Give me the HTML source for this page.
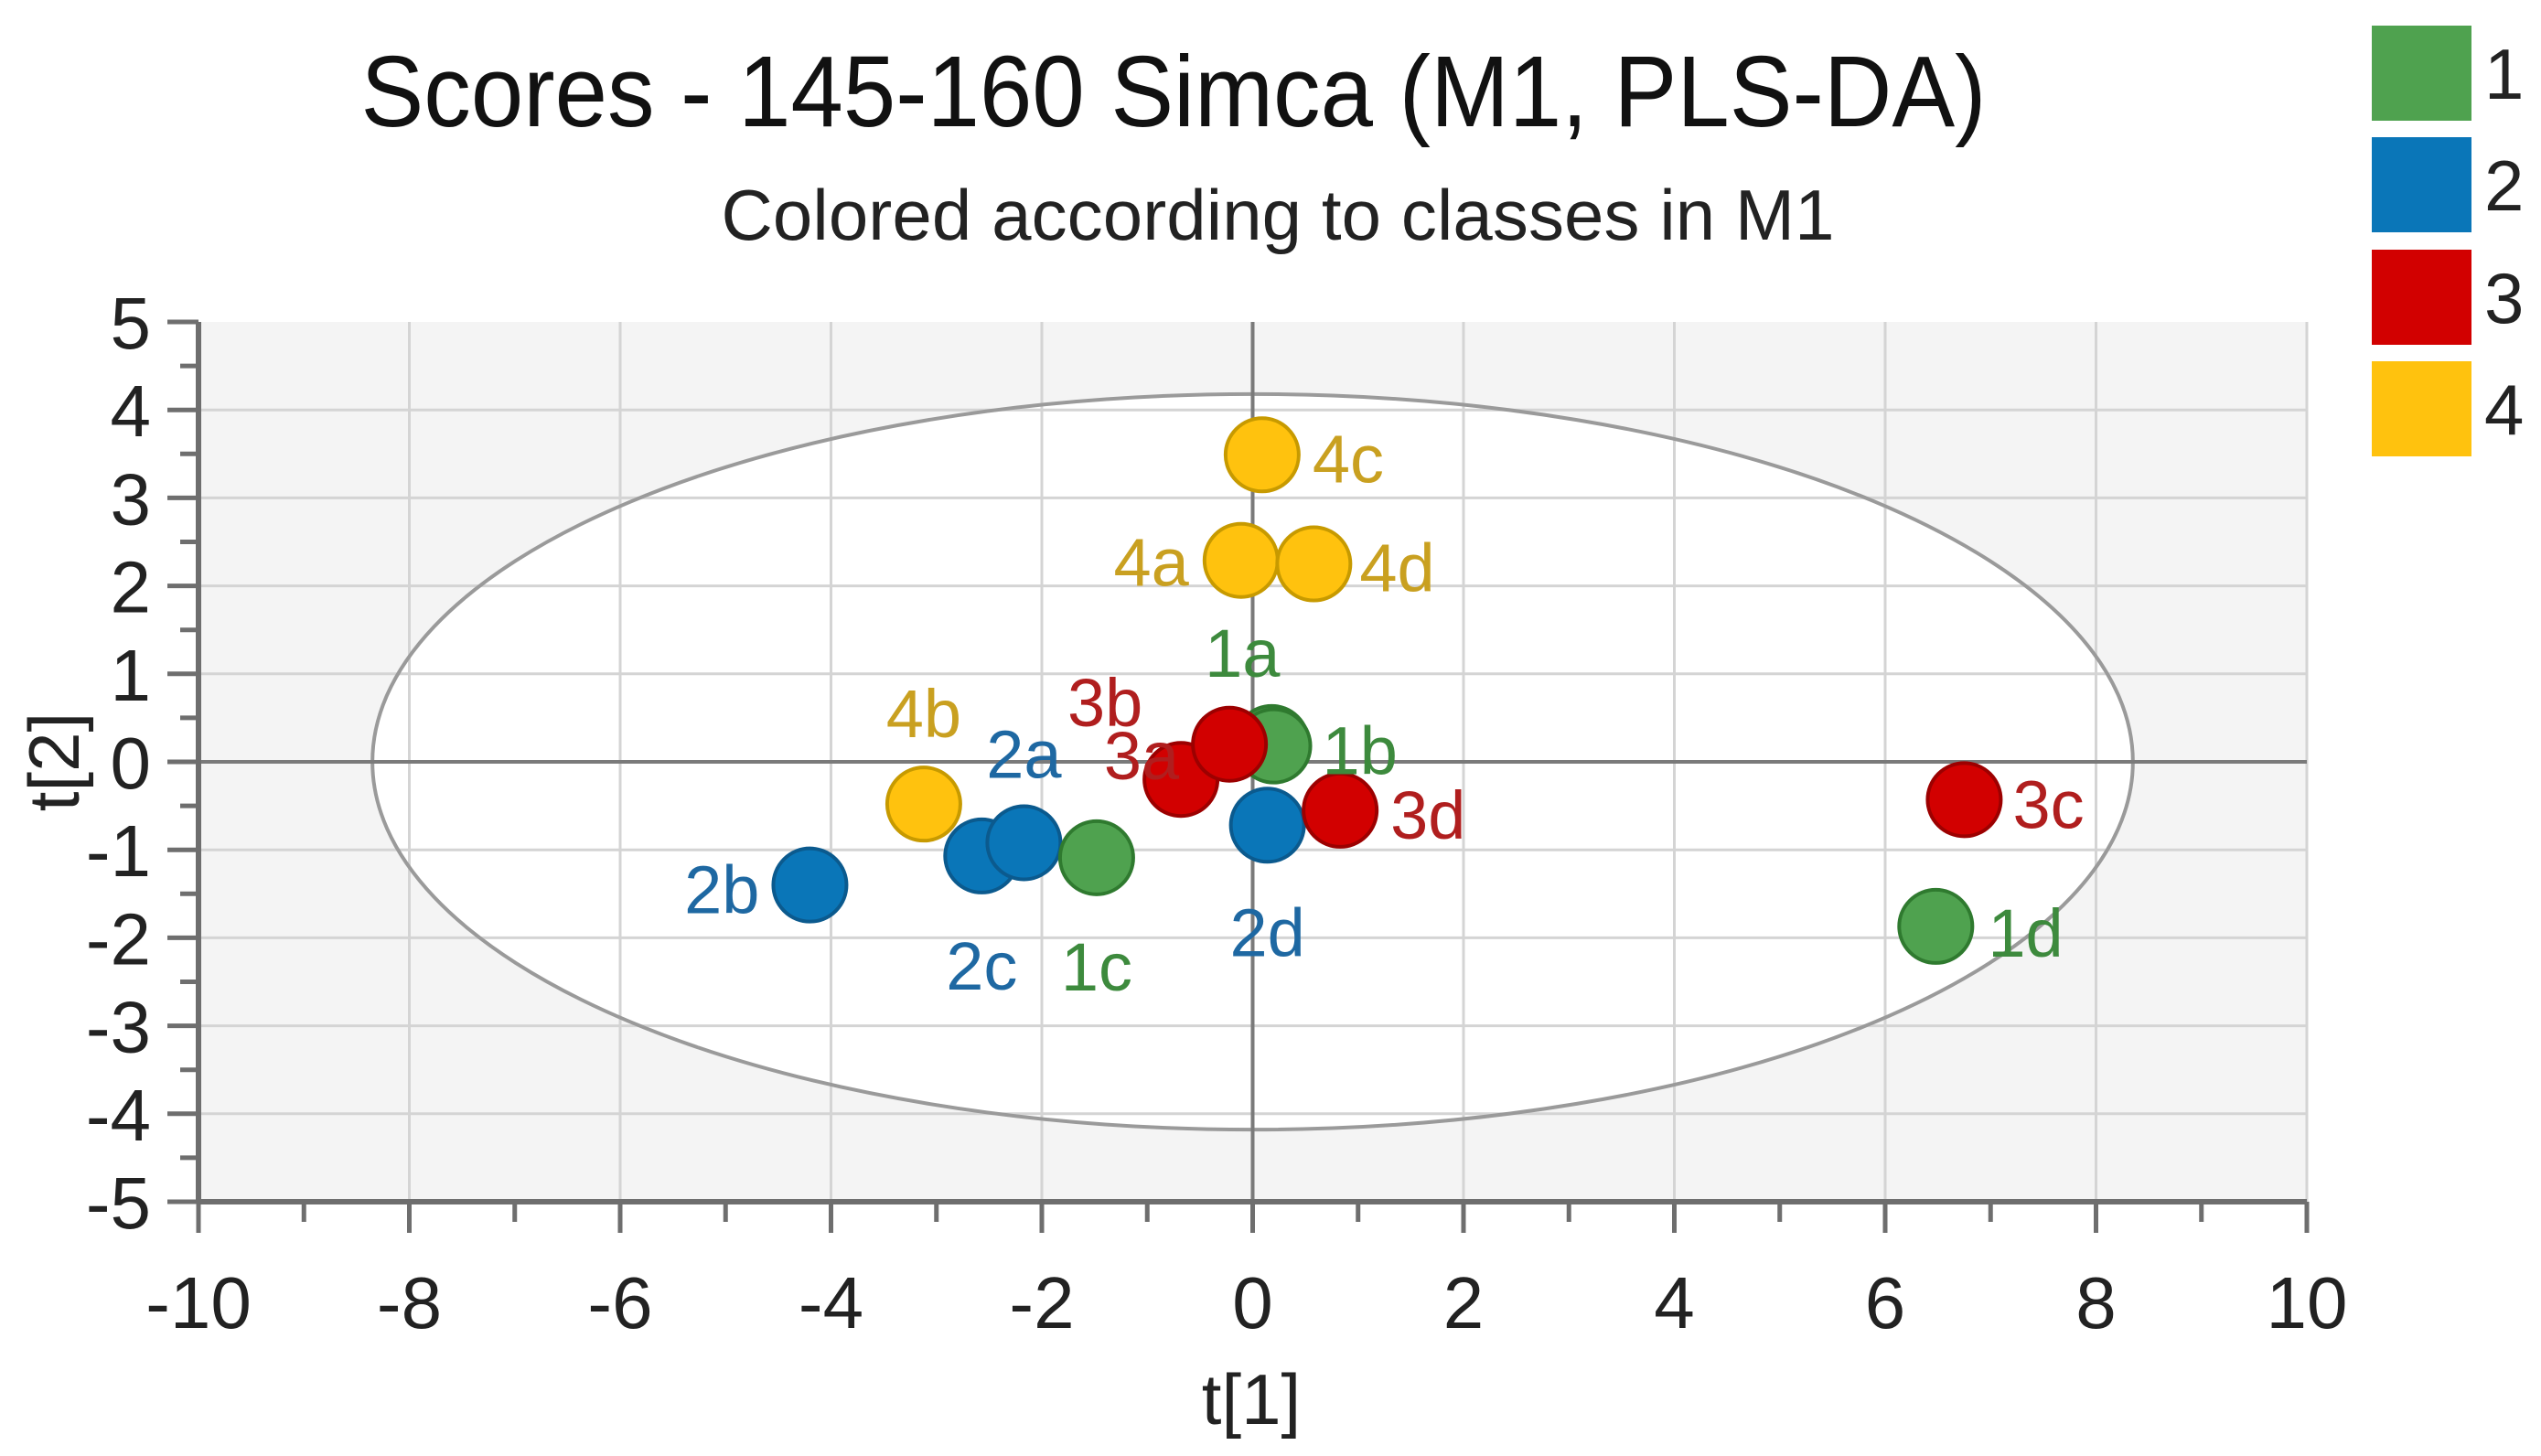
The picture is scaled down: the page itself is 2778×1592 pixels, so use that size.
<!DOCTYPE html>
<html><head><meta charset="utf-8"><style>
html,body{margin:0;padding:0;background:#fff}
svg{display:block}
text{font-family:"Liberation Sans",sans-serif}
</style></head><body>
<svg id="chart" width="2778" height="1592" viewBox="0 0 2778 1592">
<text x="1283" y="138" font-size="110" text-anchor="middle" textLength="1777" lengthAdjust="spacingAndGlyphs" fill="#111">Scores - 145-160 Simca (M1, PLS-DA)</text>
<text x="1397" y="262" font-size="78" text-anchor="middle" textLength="1217" fill="#222">Colored according to classes in M1</text>
<g id="plot"></g>
<text x="1368" y="1557" font-size="78" text-anchor="middle" fill="#222">t[1]</text>
<text x="0" y="0" font-size="78" text-anchor="middle" fill="#222" transform="translate(86,833) rotate(-90)">t[2]</text>
<g id="legend"></g>
</svg>
<script>
const classes = ["1","2","3","4"];
const labels = ["4c","4a","4d","1a","1b","3b","3a","3d","2d","4b","2a","2c","1c","2b","3c","1d"];
const classOf = ["4","4","4","1","1","3","3","3","2","4","2","2","1","2","3","1"];
const xVals = [0.09,-0.11,0.58,0.18,0.2,-0.22,-0.68,0.83,0.14,-3.12,-2.17,-2.57,-1.48,-4.2,6.75,6.48];
const yVals = [3.49,2.29,2.25,0.22,0.18,0.2,-0.2,-0.55,-0.72,-0.48,-0.92,-1.07,-1.09,-1.4,-0.43,-1.87];
const xTicks = [-10,-8,-6,-4,-2,0,2,4,6,8,10];
const yTicks = [5,4,3,2,1,0,-1,-2,-3,-4,-5];
const ellipseRx = 8.35, ellipseRy = 4.18;

const fills = {"1":"#4fa24f","2":"#0a76b8","3":"#d20000","4":"#ffc20e"};
const strokes = {"1":"#2f7a2f","2":"#0b5a8e","3":"#9c0000","4":"#c79a00"};
const textCol = {"1":"#3d8a3d","2":"#1e68a2","3":"#b01e1e","4":"#c9a020"};
const labelPos = {"4c":[55,4,"start"],"4a":[-57,2,"end"],"4d":[50,4,"start"],"1a":[-32,-98,"middle"],"1b":[53,5,"start"],"3b":[-136,-46,"middle"],"3a":[-2,-26,"end"],"3d":[55,5,"start"],"2d":[0,117,"middle"],"4b":[0,-99,"middle"],"2a":[0,-97,"middle"],"2c":[0,120,"middle"],"1c":[0,119,"middle"],"2b":[-55,5,"end"],"3c":[53,5,"start"],"1d":[57,7,"start"]};

const L=217,R=2522,T=352,B=1314;
const X=v=>L+(v+10)/20*(R-L);
const Y=v=>T+(5-v)/10*(B-T);
const NS="http://www.w3.org/2000/svg";
const plot=document.getElementById('plot');
function mk(tag,attrs,parent){const e=document.createElementNS(NS,tag);for(const k in attrs)e.setAttribute(k,attrs[k]);(parent||plot).appendChild(e);return e;}

let bg=mk('rect',{x:L,y:T,width:R-L,height:B-T,fill:'#f4f4f4'});


let ell=mk('ellipse',{cx:X(0),cy:Y(0),rx:X(ellipseRx)-X(0),ry:Y(0)-Y(ellipseRy),fill:'#fff'});


for(let v=-10;v<=10;v+=2){if(v===0)continue;let g=mk('line',{x1:X(v),x2:X(v),y1:T,y2:B,stroke:'#d4d4d4','stroke-width':3});

}
for(let v=-4;v<=4;v+=1){if(v===0)continue;let g=mk('line',{x1:L,x2:R,y1:Y(v),y2:Y(v),stroke:'#d4d4d4','stroke-width':3});

}
let e2=mk('ellipse',{cx:X(0),cy:Y(0),rx:X(ellipseRx)-X(0),ry:Y(0)-Y(ellipseRy),fill:'none',stroke:'#9a9a9a','stroke-width':4});


let z1=mk('line',{x1:X(0),x2:X(0),y1:T,y2:B,stroke:'#7a7a7a','stroke-width':4});


let z2=mk('line',{x1:L,x2:R,y1:Y(0),y2:Y(0),stroke:'#7a7a7a','stroke-width':4});


let ax=mk('line',{x1:L,x2:R,y1:B,y2:B,stroke:'#6e6e6e','stroke-width':6});


let ay=mk('line',{x1:L,x2:L,y1:T,y2:B,stroke:'#6e6e6e','stroke-width':6});


for(let v=-10;v<=10;v+=1){let major=(v%2===0);let t=mk('line',{x1:X(v),x2:X(v),y1:B,y2:B+(major?34:22),stroke:'#6e6e6e','stroke-width':5});

}
for(let v=-5;v<=5;v+=0.5){let major=Number.isInteger(v);let t=mk('line',{x1:L-(major?34:20),x2:L,y1:Y(v),y2:Y(v),stroke:'#6e6e6e','stroke-width':5});

}
xTicks.forEach(v=>{let t=mk('text',{x:X(v),y:Y(-5)+138,'font-size':80,'text-anchor':'middle',fill:'#222'});t.textContent=v;

});
yTicks.forEach(v=>{let t=mk('text',{x:165,y:Y(v)+29,'font-size':80,'text-anchor':'end',fill:'#222'});t.textContent=v;

});
const drawOrder=[0,1,2,3,4,9,13,11,10,12,8,6,5,7,14,15];
drawOrder.forEach(i=>{const c=classOf[i];
 let p=mk('circle',{cx:X(xVals[i]),cy:Y(yVals[i]),r:40,fill:fills[c],stroke:strokes[c],'stroke-width':4});
 
 
});
labels.forEach((lb,i)=>{const c=classOf[i];const o=labelPos[lb]||[50,5,"start"];
 let t=mk('text',{x:X(xVals[i])+o[0],y:Y(yVals[i])+o[1]+26,'font-size':74,'text-anchor':o[2],fill:textCol[c]});t.textContent=lb;
 
 
});
const leg=document.getElementById('legend');
const legY=[28,150,273,395];
classes.forEach((c,i)=>{
 let r=mk('rect',{x:2593,y:legY[i],width:109,height:104,fill:fills[c]},leg);
 
 
 let t=mk('text',{x:2716,y:legY[i]+80,'font-size':78,fill:'#222'},leg);t.textContent=c;
 
 
});
</script>
</body></html>
